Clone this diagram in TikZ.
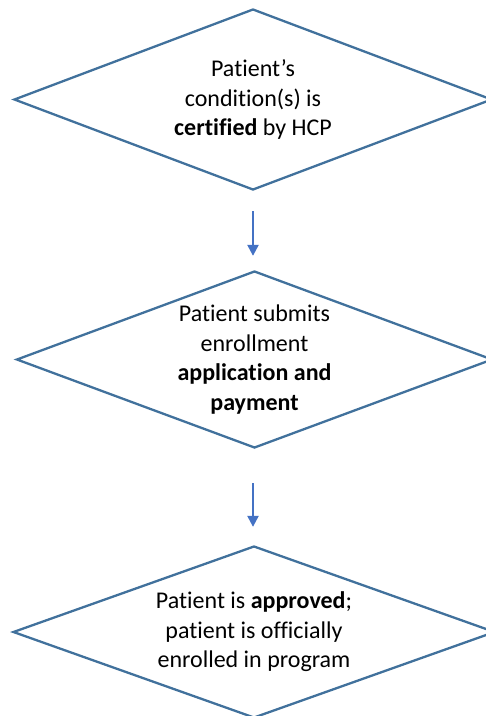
\documentclass[tikz,border=0pt]{standalone}
\usepackage{fontspec}
\setmainfont[Ligatures=NoCommon]{Carlito}
\usetikzlibrary{shapes.geometric,arrows.meta}
\definecolor{edgeblue}{HTML}{41719C}
\definecolor{arrowblue}{HTML}{4472C4}
\begin{document}
\begin{tikzpicture}
	[x=1pt,y=-1pt,
	decision/.style={diamond,draw=edgeblue,line width=2.3pt,aspect=2.6,inner sep=0pt,align=center,font=\fontsize{24}{29.5}\selectfont},
	flow/.style={-{Triangle[length=11pt,width=11pt]},arrowblue,line width=2.3pt},>=latex]
	\useasboundingbox (0,0) rectangle (486,716);
	\node[decision,name=cert,minimum width=478pt,minimum height=181pt]at(253,99.5){Patient’s\\condition(s) is\\\textbf{certified} by HCP};
	\node[decision,name=apply,minimum width=476pt,minimum height=177pt]at(254.5,359.5){Patient submits\\enrollment\\\textbf{application and}\\\textbf{payment}};
	\node[decision,name=enrol,minimum width=482pt,minimum height=172pt]at(254,632){Patient is \textbf{approved};\\patient is officially\\enrolled in program};
	\draw[flow,shorten <=20pt,shorten >=14pt](cert.south) -- (cert.south|-apply.north);
	\draw[flow,shorten <=34pt,shorten >=18pt](apply.south-|cert.south) -- (cert.south|-enrol.north);
	\end{tikzpicture}
\end{document}
